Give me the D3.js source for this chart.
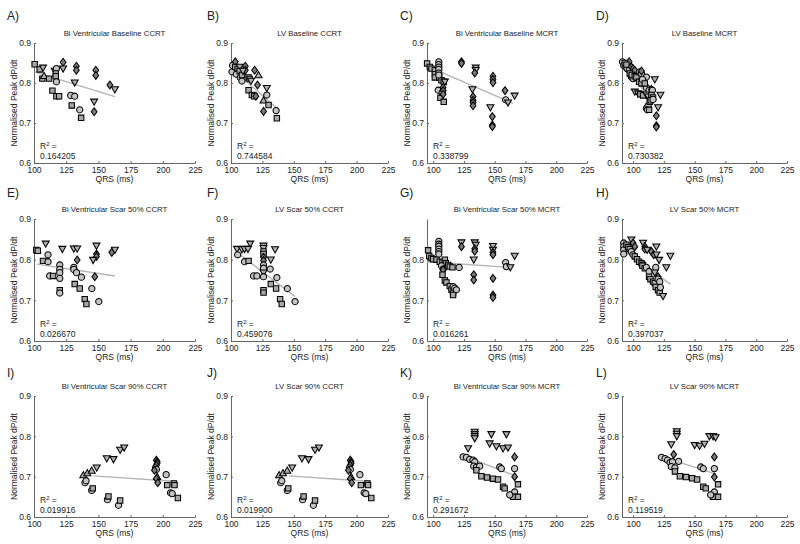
<!DOCTYPE html>
<html><head><meta charset="utf-8">
<script src="https://cdn.jsdelivr.net/npm/d3@7/dist/d3.min.js"></script>
<style>
body{margin:0;background:#fff}
svg{display:block}
text{font-family:"Liberation Sans",Arial,Helvetica,sans-serif;fill:#222}
</style>
</head><body>
<svg id="chart" width="800" height="544"></svg>
<script>
// ---------- DATA ----------
const letters = ["A)","B)","C)","D)","E)","F)","G)","H)","I)","J)","K)","L)"];
const titles = [
  "Bi Ventricular Baseline CCRT","LV Baseline CCRT","Bi Ventricular Baseline MCRT","LV Baseline MCRT",
  "Bi Ventricular Scar 50% CCRT","LV Scar 50% CCRT","Bi Ventricular Scar 50% MCRT","LV Scar 50% MCRT",
  "Bi Ventricular Scar 90% CCRT","LV Scar 90% CCRT","Bi Ventricular Scar 90% MCRT","LV Scar 90% MCRT"];
const r2Labels = ["0.164205","0.744584","0.338799","0.730382","0.026670","0.459076","0.016261","0.397037","0.019916","0.019900","0.291672","0.119519"];
const xTicks = [100,125,150,175,200,225];
const yTicks = [0.6,0.7,0.8,0.9];
const yTicksG = [0.6,0.7,0.8];
const xAxisMin = [100,100,95,91, 100,100,95,91, 100,100,95,91];

// [QRS, dP/dt, marker]  s=square o=circle d=diamond v=triangle down ^=triangle up
const dataA = [[100.5,0.847,"s"],[104.4,0.834,"s"],[107,0.838,"v"],[106.5,0.811,"s"],[107.8,0.818,"^"],[111.7,0.811,"s"],
 [116.1,0.830,"v"],[117.4,0.836,"o"],[116.9,0.824,"s"],[116.9,0.817,"s"],[117.4,0.803,"o"],[114.3,0.781,"s"],[117.4,0.767,"s"],
 [119.5,0.767,"s"],[122.6,0.852,"d"],[122.6,0.836,"v"],[132.9,0.842,"d"],[132.9,0.832,"d"],[131.6,0.801,"v"],[128.5,0.769,"o"],
 [131.6,0.767,"o"],[129.3,0.744,"s"],[135.5,0.733,"o"],[136.6,0.713,"s"],[148,0.832,"d"],[148,0.819,"d"],[146.7,0.753,"v"],
 [146.7,0.728,"d"],[158.9,0.795,"d"],[162.8,0.784,"v"]];
const dataB = [[100.8,0.828,"o"],[101.3,0.844,"o"],[103.4,0.853,"d"],[103.4,0.840,"s"],[105.3,0.835,"s"],[106.9,0.840,"v"],
 [104.2,0.822,"o"],[107.4,0.814,"o"],[108.7,0.805,"o"],[106.9,0.830,"s"],[108.7,0.820,"s"],[111.4,0.842,"d"],[111.4,0.832,"d"],
 [109.5,0.830,"v"],[114,0.814,"s"],[114.8,0.810,"s"],[115.9,0.805,"v"],[114,0.782,"s"],[116.6,0.770,"s"],[118.5,0.767,"s"],
 [119.8,0.767,"d"],[118.8,0.832,"d"],[121.9,0.820,"^"],[121.1,0.795,"d"],[128.5,0.787,"v"],[128.5,0.770,"o"],[125.9,0.757,"^"],
 [129.9,0.745,"s"],[125.9,0.729,"d"],[135.9,0.731,"o"],[136.5,0.712,"s"]];
const dataC = [[95.1,0.849,"s"],[97.3,0.840,"s"],[98.6,0.836,"s"],[101.4,0.832,"s"],[101.4,0.822,"s"],[101.4,0.814,"s"],
 [104.9,0.814,"s"],[106.8,0.807,"s"],[108.6,0.803,"s"],[104.6,0.853,"o"],[104.6,0.846,"o"],[104.6,0.840,"o"],[104.6,0.834,"o"],
 [104.6,0.825,"o"],[104.6,0.820,"o"],[104.1,0.782,"o"],[105.9,0.763,"s"],[107.3,0.776,"o"],[108.6,0.753,"s"],[108.1,0.789,"d"],
 [108.1,0.781,"d"],[108.1,0.772,"d"],[109.5,0.803,"v"],[123,0.853,"d"],[123,0.849,"d"],[134.6,0.838,"v"],[134.6,0.832,"v"],
 [133.8,0.825,"d"],[131.9,0.784,"v"],[132.4,0.766,"d"],[132.4,0.757,"d"],[132.4,0.751,"d"],[132.4,0.743,"d"],[148.6,0.817,"d"],
 [148.6,0.809,"d"],[148.6,0.801,"d"],[146.5,0.739,"v"],[148.1,0.716,"d"],[148.1,0.695,"d"],[148.1,0.691,"d"],[158.4,0.781,"d"],
 [158.9,0.758,"o"],[160.8,0.751,"v"],[166.2,0.768,"v"]];
const dataD = [[91.4,0.853,"o"],[92.4,0.844,"o"],[94.1,0.840,"o"],[95.1,0.836,"o"],[96.8,0.832,"o"],[96.8,0.853,"d"],
 [93.2,0.850,"s"],[94.6,0.846,"s"],[98.6,0.840,"d"],[100,0.836,"d"],[101.4,0.832,"d"],[98.6,0.815,"o"],[100,0.811,"o"],
 [97.3,0.824,"s"],[98.9,0.820,"s"],[101.4,0.817,"s"],[102.7,0.814,"s"],[105.4,0.828,"o"],[106.8,0.824,"o"],[106.8,0.830,"d"],
 [110.8,0.815,"o"],[104.9,0.803,"s"],[106.8,0.799,"s"],[107.6,0.809,"o"],[101.4,0.778,"v"],[104.1,0.774,"v"],[105.9,0.772,"s"],
 [108.1,0.769,"s"],[110.8,0.789,"o"],[113,0.782,"o"],[109.5,0.799,"s"],[110.8,0.771,"v"],[112.2,0.766,"v"],[114.9,0.784,"d"],
 [115.7,0.782,"o"],[114.9,0.770,"s"],[116.2,0.764,"s"],[110.8,0.737,"o"],[112.2,0.743,"o"],[113.5,0.753,"s"],[114.3,0.757,"s"],
 [111.6,0.733,"o"],[113,0.733,"s"],[117.6,0.809,"v"],[122.2,0.770,"v"],[120.3,0.739,"v"],[118.9,0.718,"d"],[118.9,0.693,"d"],
 [118.9,0.690,"d"],[116.2,0.759,"o"]];
const dataE = [[101.8,0.824,"s"],[103,0.822,"s"],[109.1,0.839,"v"],[110.9,0.812,"o"],[107,0.797,"s"],[110.9,0.795,"o"],
 [112.2,0.760,"o"],[114.8,0.760,"s"],[122,0.826,"v"],[120,0.787,"o"],[120,0.776,"o"],[120,0.768,"o"],[120,0.754,"o"],
 [120,0.725,"s"],[120,0.718,"o"],[130.9,0.827,"v"],[133.5,0.827,"v"],[130.9,0.781,"o"],[130.9,0.776,"o"],[133.5,0.799,"d"],
 [133,0.768,"o"],[131.6,0.740,"s"],[135.5,0.729,"s"],[136.8,0.757,"o"],[148.5,0.834,"v"],[148.5,0.814,"d"],[148.5,0.808,"d"],
 [145.9,0.799,"v"],[147.2,0.758,"d"],[144.9,0.729,"o"],[139.4,0.703,"s"],[140.7,0.691,"s"],[150.3,0.697,"o"],[160.4,0.818,"d"],
 [162.8,0.824,"v"]];
const dataF = [[104.8,0.826,"v"],[105.3,0.812,"o"],[108.7,0.825,"v"],[110.8,0.826,"v"],[115.3,0.839,"v"],[113.5,0.826,"v"],
 [110.8,0.795,"o"],[114,0.797,"s"],[118,0.760,"o"],[120.6,0.760,"o"],[125.9,0.834,"v"],[125.9,0.828,"v"],[125.9,0.820,"s"],
 [125.9,0.814,"s"],[125.9,0.806,"d"],[125.9,0.798,"d"],[125.9,0.787,"o"],[125.9,0.779,"o"],[125.9,0.768,"v"],[125.9,0.758,"o"],
 [125.9,0.725,"s"],[125.9,0.719,"s"],[135.1,0.825,"v"],[131.7,0.800,"v"],[131.2,0.777,"o"],[131.7,0.740,"s"],[135.9,0.729,"s"],
 [136.5,0.756,"o"],[144.9,0.729,"o"],[139.1,0.703,"s"],[140.4,0.691,"s"],[151,0.697,"o"]];
const dataG = [[95.9,0.823,"s"],[96.8,0.809,"s"],[98.6,0.804,"s"],[100,0.801,"s"],[102.7,0.800,"s"],[104.6,0.845,"o"],
 [104.6,0.838,"o"],[104.6,0.833,"o"],[104.6,0.826,"o"],[104.6,0.820,"o"],[104.6,0.814,"o"],[105.4,0.795,"s"],[107.6,0.793,"s"],
 [109.5,0.800,"s"],[110.3,0.791,"s"],[112.2,0.787,"s"],[113.5,0.783,"s"],[115.7,0.781,"s"],[106.8,0.785,"o"],[108.1,0.777,"o"],
 [108.1,0.775,"d"],[107.6,0.763,"s"],[109.5,0.749,"s"],[110.8,0.744,"s"],[113.5,0.735,"s"],[114.9,0.726,"s"],[116.2,0.719,"s"],
 [116.2,0.734,"o"],[117.6,0.730,"o"],[118.9,0.726,"o"],[116.2,0.713,"s"],[121.1,0.781,"o"],[123,0.842,"v"],[123,0.832,"d"],
 [133.8,0.842,"v"],[134.6,0.836,"v"],[133.8,0.827,"d"],[133.8,0.821,"d"],[133,0.800,"v"],[133,0.763,"d"],[133,0.750,"d"],
 [148.6,0.833,"v"],[148.6,0.824,"v"],[148.6,0.818,"d"],[148.6,0.812,"d"],[148.6,0.754,"d"],[148.6,0.713,"d"],[148.6,0.707,"d"],
 [158.9,0.793,"o"],[159.5,0.783,"o"],[162.7,0.781,"v"],[166.2,0.809,"v"]];
const dataH = [[92.4,0.841,"o"],[92.4,0.832,"o"],[92.4,0.824,"o"],[92.4,0.814,"o"],[94.6,0.837,"s"],[95.9,0.831,"s"],
 [97.3,0.826,"s"],[98.6,0.849,"v"],[100,0.841,"d"],[101.4,0.832,"d"],[98.6,0.820,"o"],[100,0.812,"o"],[101.4,0.808,"s"],
 [103.2,0.801,"s"],[104.9,0.795,"s"],[106.8,0.791,"s"],[108.1,0.787,"s"],[108.1,0.841,"v"],[109.5,0.832,"d"],[109.5,0.826,"d"],
 [111.4,0.824,"v"],[107.6,0.785,"s"],[109.5,0.779,"s"],[110.8,0.781,"o"],[113,0.771,"o"],[113,0.758,"s"],[114.1,0.752,"s"],
 [116.2,0.746,"s"],[117.6,0.742,"s"],[114.9,0.820,"d"],[116.8,0.812,"d"],[118.9,0.832,"v"],[118.9,0.812,"v"],[121.1,0.799,"v"],
 [118.4,0.781,"o"],[117.6,0.768,"v"],[120.3,0.758,"d"],[120.3,0.752,"o"],[121.6,0.746,"o"],[118.4,0.733,"s"],[120.3,0.725,"s"],
 [121.6,0.719,"s"],[122.2,0.732,"o"],[124.3,0.710,"v"],[127,0.781,"v"],[130.3,0.809,"v"]];
const dataI = [[138.3,0.704,"^"],[141.4,0.709,"^"],[144.8,0.715,"^"],[148.7,0.722,"v"],[156.5,0.745,"v"],[161.7,0.743,"v"],
 [166.9,0.766,"v"],[170,0.772,"v"],[139.6,0.685,"o"],[140.4,0.690,"o"],[144.8,0.666,"o"],[145.6,0.671,"s"],[157,0.643,"o"],
 [157.8,0.651,"s"],[165.6,0.629,"o"],[166.9,0.641,"s"],[195,0.741,"d"],[195.6,0.737,"d"],[195.6,0.733,"d"],[195,0.728,"d"],
 [194.3,0.722,"o"],[195,0.718,"o"],[193.5,0.716,"d"],[195.6,0.700,"^"],[195,0.695,"d"],[196.1,0.685,"d"],[202.6,0.705,"o"],
 [203.4,0.679,"s"],[208.6,0.683,"s"],[209.1,0.679,"s"],[206,0.660,"o"],[207.3,0.658,"o"],[211.7,0.647,"s"]];
const dataJ = [[138.3,0.704,"^"],[141.4,0.709,"^"],[144.8,0.715,"^"],[148.7,0.722,"v"],[156.5,0.745,"v"],[161.7,0.743,"v"],
 [166.9,0.766,"v"],[170,0.772,"v"],[139.6,0.685,"o"],[140.4,0.690,"o"],[144.8,0.666,"o"],[145.6,0.671,"s"],[157,0.643,"o"],
 [157.8,0.651,"s"],[165.6,0.629,"o"],[166.9,0.641,"s"],[195,0.741,"d"],[195.6,0.737,"d"],[195.6,0.733,"d"],[195,0.728,"d"],
 [194.3,0.722,"o"],[195,0.718,"o"],[193.5,0.716,"d"],[195.6,0.700,"^"],[195,0.695,"d"],[196.1,0.685,"d"],[202.6,0.705,"o"],
 [203.4,0.679,"s"],[208.6,0.683,"s"],[209.1,0.679,"s"],[206,0.660,"o"],[207.3,0.658,"o"],[211.7,0.647,"s"]];
const dataK = [[133.8,0.811,"v"],[133.8,0.805,"v"],[133.8,0.800,"v"],[133.8,0.795,"v"],[147.3,0.805,"v"],[159.5,0.805,"v"],
 [145.9,0.782,"v"],[151.4,0.775,"v"],[156.8,0.770,"v"],[160.8,0.772,"v"],[128.4,0.770,"v"],[124.3,0.749,"o"],[127,0.748,"o"],
 [129.7,0.743,"o"],[132.4,0.741,"o"],[133.8,0.737,"o"],[133,0.726,"o"],[135.1,0.723,"o"],[137.8,0.726,"o"],[166.2,0.749,"d"],
 [166.2,0.720,"o"],[166.2,0.700,"d"],[166.2,0.662,"o"],[168.9,0.681,"s"],[164.9,0.650,"s"],[168.9,0.650,"s"],[162.2,0.655,"o"],
 [135.1,0.716,"s"],[139.2,0.701,"s"],[143.8,0.698,"s"],[148.6,0.695,"s"],[152.7,0.693,"s"],[154.1,0.724,"o"],[155.4,0.720,"o"],
 [156.8,0.675,"s"],[158.1,0.671,"s"]];
const dataL = [[135.5,0.812,"v"],[135.5,0.806,"v"],[135.5,0.800,"v"],[131,0.780,"v"],[150,0.778,"v"],[154,0.776,"v"],
 [158,0.781,"v"],[162,0.800,"v"],[165,0.800,"v"],[167,0.797,"v"],[123,0.748,"o"],[126,0.745,"o"],[128,0.741,"o"],[130,0.735,"o"],
 [132,0.737,"o"],[131,0.725,"o"],[134,0.722,"o"],[137,0.738,"o"],[166,0.749,"d"],[166,0.720,"o"],[166,0.699,"d"],[166,0.662,"o"],
 [169,0.681,"s"],[165,0.650,"s"],[169,0.650,"s"],[163,0.655,"o"],[134,0.713,"s"],[138,0.701,"s"],[143,0.699,"s"],[148,0.696,"s"],
 [152,0.693,"s"],[155,0.724,"o"],[157,0.720,"o"],[157,0.675,"s"],[159,0.671,"s"],[133,0.755,"d"]];
const allData = [dataA,dataB,dataC,dataD,dataE,dataF,dataG,dataH,dataI,dataJ,dataK,dataL];

// regression lines: [[x0,y0],[x1,y1]]
const fitLines = [
  [[100.5,0.828],[162.8,0.766]], [[101.3,0.834],[136.5,0.737]], [[95.1,0.842],[164.9,0.749]], [[90.5,0.850],[116.2,0.753]],
  [[102.3,0.789],[162.8,0.760]], [[104.8,0.818],[151,0.709]], [[95.1,0.795],[162.2,0.781]], [[91.4,0.824],[130.3,0.740]],
  [[146,0.702],[211,0.688]], [[146,0.702],[211,0.688]], [[127,0.749],[164.9,0.704]], [[125,0.748],[167,0.707]]];

// ---------- LAYOUT ----------
const colL = [34,231,427,622], colR = [195,388,587,787];
const rowT = [43,219,396], rowB = [163,341,517];
const letterX = [7,207,400,596], letterY = [20,197,377];

const svg = d3.select("#chart");

function markerPath(t){
  switch(t){
    case "s": return "M-2.7,-2.7H2.7V2.7H-2.7Z";
    case "o": return d3.arc()({innerRadius:0,outerRadius:3.1,startAngle:0,endAngle:2*Math.PI});
    case "d": return "M0,-3.9L2.9,0L0,3.9L-2.9,0Z";
    case "v": return "M-3.5,-2.7L3.5,-2.7L0,3.5Z";
    case "^": return "M-3.5,2.7L3.5,2.7L0,-3.5Z";
  }
}
const fills = {s:"#a8a8a8",o:"#c4c4c4",d:"#7c7c7c",v:"#b0b0b0","^":"#b0b0b0"};

allData.forEach((pts,i)=>{
  const c = i%4, r = Math.floor(i/4);
  const L=colL[c], R=colR[c], T=rowT[r], B=rowB[r];
  const x = d3.scaleLinear().domain([xAxisMin[i],225]).range([L,R]);
  const y = d3.scaleLinear().domain([0.6,0.9]).range([B,T]);
  const g = svg.append("g");

  const ya = g.append("g").attr("transform",`translate(${L},0)`)
    .call(d3.axisLeft(y).tickValues(i===6?yTicksG:yTicks).tickFormat(d3.format(".1f")).tickSize(-2).tickSizeOuter(0).tickPadding(3));
  const xa = g.append("g").attr("transform",`translate(0,${B})`)
    .call(d3.axisBottom(x).tickValues(xTicks).tickSize(-2).tickSizeOuter(0).tickPadding(4));
  [ya,xa].forEach(a=>{
    a.select(".domain").attr("stroke","#666").attr("stroke-width",1);
    a.selectAll(".tick line").attr("stroke","#666");
    a.selectAll(".tick text").attr("font-size",8.5).attr("fill","#222").style("font-family","Liberation Sans, Arial, sans-serif");
  });

  // regression line
  g.append("path").datum(fitLines[i])
    .attr("d",d3.line().x(d=>x(d[0])).y(d=>y(d[1])))
    .attr("stroke","#b4b4b4").attr("stroke-width",1.4).attr("fill","none");

  g.selectAll("path.m").data(pts).join("path").attr("class","m")
    .attr("d",d=>markerPath(d[2]))
    .attr("transform",d=>`translate(${x(d[0])},${y(d[1])})`)
    .attr("fill",d=>fills[d[2]]).attr("stroke","#000").attr("stroke-width",1.05);

  // texts
  g.append("text").attr("x",(L+R)/2).attr("y",T-7).attr("text-anchor","middle").attr("font-size",7.8).text(titles[i]);
  g.append("text").attr("x",letterX[c]).attr("y",letterY[r]).attr("font-size",12).text(letters[i]);
  g.append("text").attr("x",(L+R)/2).attr("y",B+19).attr("text-anchor","middle").attr("font-size",8.5).text("QRS (ms)");
  g.append("text").attr("transform",`translate(${L-17},${(T+B)/2}) rotate(-90)`).attr("text-anchor","middle")
    .attr("font-size",8.5).text("Normalised Peak dP/dt");
  const rt = g.append("text").attr("x",L+6).attr("y",B-14).attr("font-size",8.5);
  rt.append("tspan").text("R");
  rt.append("tspan").attr("font-size",6).attr("dy",-3.5).text("2");
  rt.append("tspan").attr("dy",3.5).text(" =");
  g.append("text").attr("x",L+6).attr("y",B-4).attr("font-size",8.5).text(r2Labels[i]);
});
</script>
</body></html>
